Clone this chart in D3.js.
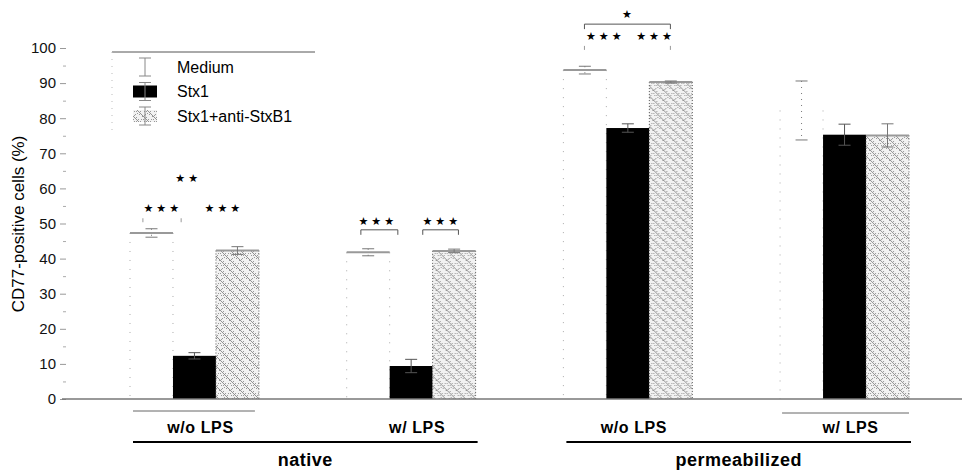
<!DOCTYPE html>
<html>
<head>
<meta charset="utf-8">
<script src="https://cdn.jsdelivr.net/npm/d3@7"></script>
<style>
  body { margin: 0; background: #fff; }
  text { font-family: "Liberation Sans", Arial, sans-serif; }
</style>
</head>
<body>
<div id="chart"></div>
<script>
var width = 962, height = 471;

// data
var groups = ["native w/o LPS", "native w/ LPS", "perm w/o LPS", "perm w/ LPS"];
var subLabels = ["w/o LPS", "w/ LPS", "w/o LPS", "w/ LPS"];
var series = ["Medium", "Stx1", "Stx1+anti-StxB1"];
var medium = [47.3, 41.8, 93.7, 82.2];
var mediumErr = [1.2, 1.0, 1.1, 8.4];
var stx1 = [12.3, 9.4, 77.2, 75.3];
var stx1Err = [0.9, 1.9, 1.2, 3.0];
var anti = [42.3, 42.2, 90.3, 75.1];
var antiErr = [1.1, 0.5, 0.3, 3.3];
var yTicks = [0, 10, 20, 30, 40, 50, 60, 70, 80, 90, 100];
var yMinor = [5, 15, 25, 35, 45, 55, 65, 75, 85, 95];

// significance marks: group, position in bar units (0..3), value level
var brackets = [
  { g: 0, a: 0.3, b: 1.19, y: 51.5, line: false },
  { g: 1, a: 0.33, b: 1.19, y: 48.2, line: true },
  { g: 1, a: 1.77, b: 2.6, y: 48.2, line: true },
  { g: 2, a: 0.49, b: 2.49, y: 106.8, line: true },
  { g: 2, a: 0.49, b: 2.49, y: 100.6, line: false }
];
var stars = [
  { g: 0, p: 0.74, y: 54.4, t: "★★★" },
  { g: 0, p: 1.33, y: 62.9, t: "★★" },
  { g: 0, p: 2.16, y: 54.4, t: "★★★" },
  { g: 1, p: 0.7, y: 50.5, t: "★★★" },
  { g: 1, p: 2.19, y: 50.5, t: "★★★" },
  { g: 2, p: 1.49, y: 109.6, t: "★" },
  { g: 2, p: 0.95, y: 103.4, t: "★★★" },
  { g: 2, p: 2.12, y: 103.4, t: "★★★" }
];
var superGroups = [
  { name: "native", from: 0, to: 1 },
  { name: "permeabilized", from: 2, to: 3 }
];

var svg = d3.select("#chart")
  .append("svg")
  .attr("width", width)
  .attr("height", height);

var defs = svg.append("defs");
var pat = defs.append("pattern")
  .attr("id", "hatch")
  .attr("patternUnits", "userSpaceOnUse")
  .attr("width", 10)
  .attr("height", 10);
pat.append("rect").attr("width", 10).attr("height", 10).attr("fill", "#f2f2f2");
pat.append("path")
  .attr("d", "M0,0 L10,10 M-2,8 L2,12 M8,-2 L12,2")
  .attr("stroke", "#7a7a7a")
  .attr("stroke-width", 0.8);
[[1, 5], [3, 1], [5, 3], [6, 8], [2, 8], [8, 3], [4, 7], [0, 3], [7, 5], [9, 0], [3, 5], [1, 9]].forEach(function (p) {
  pat.append("rect").attr("x", p[0]).attr("y", p[1]).attr("width", 1).attr("height", 1).attr("fill", "#999");
});

var y = d3.scaleLinear().domain([0, 100]).range([399, 48]);

var xg = d3.scaleBand()
  .domain(groups)
  .range([130, 909])
  .paddingInner(0.405);

var xs = d3.scaleBand()
  .domain(series)
  .range([0, xg.bandwidth()]);

var unit = xs.bandwidth();
function px(g, p) { return xg(groups[g]) + p * unit; }

// y axis
var yAxis = svg.append("g")
  .attr("transform", "translate(66,0)")
  .call(d3.axisLeft(y).tickValues(yTicks).tickSize(6).tickPadding(4));
yAxis.select(".domain").remove();
yAxis.selectAll("line").attr("stroke", "#999");
yAxis.selectAll("text")
  .style("font-size", "15px")
  .style("font-family", "Liberation Sans, Arial, sans-serif")
  .attr("fill", "#111");

var yAxisMinor = svg.append("g")
  .attr("transform", "translate(66,0)")
  .call(d3.axisLeft(y).tickValues(yMinor).tickSize(3).tickFormat(""));
yAxisMinor.select(".domain").remove();
yAxisMinor.selectAll("line").attr("stroke", "#aaa");

svg.append("text")
  .attr("transform", "translate(24,224) rotate(-90)")
  .attr("text-anchor", "middle")
  .style("font-size", "17px")
  .text("CD77-positive cells (%)");

// bars
var rows = groups.map(function (g, i) {
  return [
    { g: g, s: "Medium", v: medium[i], e: mediumErr[i] },
    { g: g, s: "Stx1", v: stx1[i], e: stx1Err[i] },
    { g: g, s: "Stx1+anti-StxB1", v: anti[i], e: antiErr[i] }
  ];
});

var bars = svg.append("g")
  .selectAll("g")
  .data(rows)
  .enter().append("g")
  .attr("transform", function (d) { return "translate(" + xg(d[0].g) + ",0)"; });

var bar = bars.selectAll("g")
  .data(function (d) { return d; })
  .enter().append("g");

bar.append("rect")
  .attr("x", function (d) { return xs(d.s); })
  .attr("y", function (d) { return y(d.v); })
  .attr("width", unit)
  .attr("height", function (d) { return y(0) - y(d.v); })
  .attr("fill", function (d) {
    if (d.s == "Medium") return "#fff";
    else if (d.s == "Stx1") return "#000";
    return "url(#hatch)";
  });

// dotted sides of the white and hatched bars
bar.filter(function (d) { return d.s != "Stx1"; })
  .append("path")
  .attr("d", function (d) {
    var x0 = xs(d.s), x1 = xs(d.s) + unit;
    return "M" + x0 + "," + y(d.v) + "V" + y(0) + "M" + x1 + "," + y(d.v) + "V" + y(0);
  })
  .attr("fill", "none")
  .attr("stroke", function (d) { return d.s == "Medium" ? "#aaa" : "#555"; })
  .attr("stroke-width", 1)
  .attr("stroke-dasharray", function (d) { return d.s == "Medium" ? "1,8" : "1,2"; });

// top edge
bar.filter(function (d) { return d.s != "Stx1"; })
  .append("line")
  .attr("x1", function (d) { return xs(d.s); })
  .attr("x2", function (d) { return xs(d.s) + unit; })
  .attr("y1", function (d) { return y(d.v); })
  .attr("y2", function (d) { return y(d.v); })
  .attr("stroke", function (d) { return d.s == "Medium" && d.e > 5 ? "none" : "#999"; })
  .attr("stroke-width", 2);

// error bars
var err = bar.append("g")
  .attr("stroke", function (d) { return d.s == "Stx1" ? "#555" : "#777"; })
  .attr("stroke-width", 1);
err.append("line")
  .attr("x1", function (d) { return xs(d.s) + unit / 2; })
  .attr("x2", function (d) { return xs(d.s) + unit / 2; })
  .attr("y1", function (d) { return y(d.v + d.e); })
  .attr("y2", function (d) { return y(d.v - d.e); })
  .attr("stroke-dasharray", function (d) { return d.s == "Medium" ? "1,5" : null; });
err.selectAll("line.cap")
  .data(function (d) { return [d.v + d.e, d.v - d.e].map(function (v) { return { s: d.s, v: v }; }); })
  .enter().append("line")
  .attr("class", "cap")
  .attr("x1", function (d) { return xs(d.s) + unit / 2 - 6; })
  .attr("x2", function (d) { return xs(d.s) + unit / 2 + 6; })
  .attr("y1", function (d) { return y(d.v); })
  .attr("y2", function (d) { return y(d.v); });

// x axis line
svg.append("line")
  .attr("x1", 62).attr("x2", width)
  .attr("y1", y(0)).attr("y2", y(0))
  .attr("stroke", "#777")
  .attr("stroke-width", 1.5);

// significance
brackets.forEach(function (b) {
  var x0 = px(b.g, b.a), x1 = px(b.g, b.b), yy = y(b.y);
  svg.append("path")
    .attr("d", b.line
      ? "M" + x0 + "," + (yy + 5) + "V" + yy + "H" + x1 + "V" + (yy + 5)
      : "M" + x0 + "," + yy + "v4M" + x1 + "," + yy + "v4")
    .attr("fill", "none")
    .attr("stroke", b.line ? "#555" : "#999")
    .attr("stroke-width", 1);
});

svg.append("g")
  .selectAll("text")
  .data(stars)
  .enter().append("text")
  .attr("x", function (d) { return px(d.g, d.p) + 1; })
  .attr("y", function (d) { return y(d.y); })
  .attr("text-anchor", "middle")
  .attr("dominant-baseline", "central")
  .style("font-family", "DejaVu Sans, sans-serif")
  .style("font-size", "11px")
  .style("letter-spacing", "3px")
  .text(function (d) { return d.t; });

// group labels
svg.append("g")
  .selectAll("text")
  .data(groups)
  .enter().append("text")
  .attr("x", function (d) { return xg(d) + xg.bandwidth() / 2 + 6; })
  .attr("y", 433)
  .attr("text-anchor", "middle")
  .style("font-size", "16px")
  .style("font-weight", "bold")
  .style("letter-spacing", "0.6px")
  .text(function (d, i) { return subLabels[i]; });

// thin lines above first and last sub label
[0, 3].forEach(function (i) {
  var x0 = i == 0 ? xg(groups[i]) + 3 : xg(groups[i]) + 2;
  var x1 = i == 0 ? xg(groups[i]) + xg.bandwidth() - 4 : xg(groups[i]) + xg.bandwidth();
  svg.append("line")
    .attr("x1", x0).attr("x2", x1)
    .attr("y1", i == 0 ? 411 : 413).attr("y2", i == 0 ? 411 : 413)
    .attr("stroke", "#666").attr("stroke-width", 1);
});

superGroups.forEach(function (sg) {
  var x0 = xg(groups[sg.from]) + 3;
  var x1 = xg(groups[sg.to]) + xg.bandwidth() + 2;
  svg.append("line")
    .attr("x1", x0).attr("x2", x1)
    .attr("y1", 442).attr("y2", 442)
    .attr("stroke", "#000").attr("stroke-width", 2);
  svg.append("text")
    .attr("x", (x0 + x1) / 2)
    .attr("y", 466)
    .attr("text-anchor", "middle")
    .style("font-size", "18px")
    .style("font-weight", "bold")
    .style("letter-spacing", "0.5px")
    .text(sg.name);
});

// legend
var legend = svg.append("g");
legend.append("line")
  .attr("x1", 112).attr("x2", 315)
  .attr("y1", 52).attr("y2", 52)
  .attr("stroke", "#555");
legend.append("line")
  .attr("x1", 112).attr("x2", 112)
  .attr("y1", 52).attr("y2", 132)
  .attr("stroke", "#bbb")
  .attr("stroke-dasharray", "1,6");

var li = legend.selectAll("g.item")
  .data(series)
  .enter().append("g")
  .attr("class", "item")
  .attr("transform", function (d, i) { return "translate(133," + (67 + i * 24.5) + ")"; });

li.filter(function (d) { return d != "Medium"; })
  .append("rect")
  .attr("x", 0).attr("y", -6)
  .attr("width", 24).attr("height", 12)
  .attr("fill", function (d) { return d == "Stx1" ? "#000" : "url(#hatch)"; });

li.append("path")
  .attr("d", "M6,-9H18M12,-9V9M6,9H18")
  .attr("fill", "none")
  .attr("stroke", "#888")
  .attr("stroke-width", 1);

li.append("text")
  .attr("x", 44)
  .attr("y", 0)
  .attr("dominant-baseline", "central")
  .style("font-size", "16px")
  .text(function (d) { return d; });
</script>
</body>
</html>
